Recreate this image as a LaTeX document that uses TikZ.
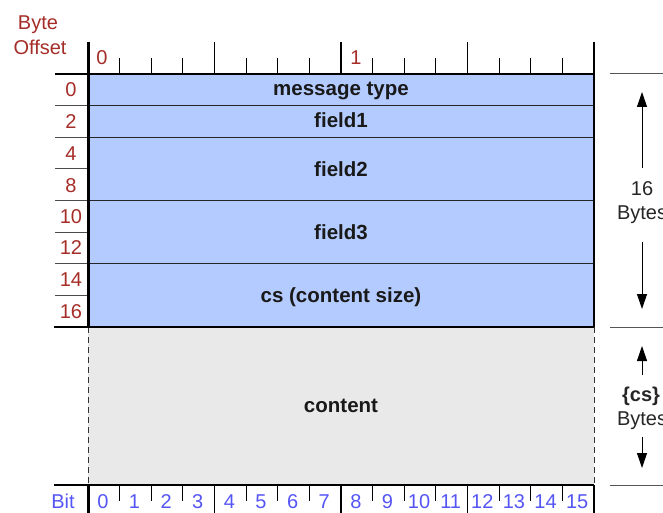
\documentclass[tikz,border=0pt]{standalone}
\usepackage{fontspec}
\setmainfont{Liberation Sans}
\usetikzlibrary{arrows.meta}
\definecolor{fieldblue}{RGB}{180,203,255}
\definecolor{contgray}{RGB}{233,233,233}
\definecolor{offred}{RGB}{165,45,40}
\definecolor{bitblue}{RGB}{85,85,245}
\definecolor{sidegray}{RGB}{85,85,85}
\begin{document}
\begin{tikzpicture}[x=1pt,y=-1pt,
  txt/.style={anchor=base,inner sep=0pt,font=\fontsize{20}{24}\selectfont},
  fieldlbl/.style={txt,font=\fontsize{20.5}{24}\selectfont\bfseries,text=black!90},
  offlbl/.style={txt,text=offred},
  bitlbl/.style={txt,text=bitblue},
  sidelbl/.style={txt,text=black!85},
  thickln/.style={line width=2.5pt,black},
  rowln/.style={line width=1.2pt,black!85},
  labln/.style={line width=1pt,black!70},
  tickln/.style={line width=1pt,black},
  dashln/.style={line width=1pt,black!80,dash pattern=on 6pt off 4pt},
  sideln/.style={line width=1pt,sidegray},
  arr/.style={line width=1pt,-{Triangle[width=10pt,length=15pt]}}
]
\def\unitw{31.625}
\useasboundingbox (0,0) rectangle (663,513);
% fills
\fill[fieldblue] (88,74) rectangle (594,327);
\fill[contgray] (88,327) rectangle (594,485);
% left label lines
\foreach \k in {1,...,7}{
  \draw[labln] (55,{74+\k*\unitw}) -- (88,{74+\k*\unitw});
}
% row lines inside box
\foreach \k in {1,2,4,6}{
  \draw[rowln] (88,{74+\k*\unitw}) -- (594,{74+\k*\unitw});
}
% top ruler ticks
\foreach \k in {1,...,15}{
  \pgfmathtruncatemacro{\m}{mod(\k,4)}
  \ifnum\m=0
    \ifnum\k=8
      \draw[line width=2.5pt] ({88+\k*\unitw},42) -- ({88+\k*\unitw},74);
    \else
      \draw[tickln] ({88+\k*\unitw},42) -- ({88+\k*\unitw},74);
    \fi
  \else
    \draw[tickln] ({88+\k*\unitw},58) -- ({88+\k*\unitw},74);
  \fi
}
% bottom ruler ticks
\foreach \k in {1,...,15}{
  \pgfmathtruncatemacro{\m}{mod(\k,4)}
  \ifnum\m=0
    \ifnum\k=8
      \draw[line width=2.5pt] ({88+\k*\unitw},485) -- ({88+\k*\unitw},514);
    \else
      \draw[tickln] ({88+\k*\unitw},485) -- ({88+\k*\unitw},514);
    \fi
  \else
    \draw[tickln] ({88+\k*\unitw},485) -- ({88+\k*\unitw},501);
  \fi
}
% dashed sides of content
\draw[dashln] (88,327) -- (88,485);
\draw[dashln] (594,327) -- (594,485);
% thick horizontal lines
\draw[thickln] (55,74) -- (594,74);
\draw[thickln] (54,327) -- (594,327);
\draw[thickln] (54,485) -- (594,485);
% thick verticals
\draw[line width=3pt] (88,42) -- (88,327);
\draw[line width=2.5pt] (594,42) -- (594,327);
\draw[line width=3pt] (88,485) -- (88,514);
\draw[line width=2.5pt] (594,485) -- (594,514);
% right side lines
\draw[sideln] (610,74) -- (664,74);
\draw[sideln] (610,327) -- (664,327);
\draw[sideln] (610,485) -- (664,485);
% field labels
\node[fieldlbl] (mt) at (341,96) {message type};
\node[fieldlbl] (f1) at (341,128) {field1};
\node[fieldlbl] (f2) at (341,176) {field2};
\node[fieldlbl] (f3) at (341,239) {field3};
\node[fieldlbl] (cs) at (341,302) {cs (content size)};
\node[fieldlbl] (ct) at (341,412) {content};
% byte offset header
\node[offlbl] (byte) at (38,30) {Byte};
\node[offlbl] (offset) at (40,55) {Offset};
\node[offlbl] (top0) at (102,65) {0};
\node[offlbl] (top1) at (356,65) {1};
% row labels
\node[offlbl] (r0) at (71,97) {0};
\node[offlbl] (r2) at (71,128.5) {2};
\node[offlbl] (r4) at (71,160.5) {4};
\node[offlbl] (r8) at (71,192) {8};
\node[offlbl] (r10) at (71,223) {10};
\node[offlbl] (r12) at (71,254.5) {12};
\node[offlbl] (r14) at (71,286) {14};
\node[offlbl] (r16) at (71,318) {16};
% bit labels
\node[bitlbl] (bit) at (63,508) {Bit};
\foreach \k in {0,...,15}{
  \node[bitlbl] (b\k) at ({88+(\k+0.5)*\unitw-1},508) {\k};
}
% right size annotations
\node[sidelbl] (n16) at (642,195) {16};
\node[sidelbl] (by1) at (642,219) {Bytes};
\coordinate (a1s) at (642,168);
\coordinate (a1e) at (642,92);
\coordinate (a2s) at (642,242);
\coordinate (a2e) at (642,309);
\draw[arr] (a1s) -- (a1e);
\draw[arr] (a2s) -- (a2e);
\node[sidelbl,font=\fontsize{20}{24}\selectfont\bfseries] (ncs) at (641,401) {\{cs\}};
\node[sidelbl] (by2) at (642,425) {Bytes};
\coordinate (a3s) at (642,375);
\coordinate (a3e) at (642,346);
\coordinate (a4s) at (642,437);
\coordinate (a4e) at (642,468);
\draw[arr] (a3s) -- (a3e);
\draw[arr] (a4s) -- (a4e);
\end{tikzpicture}
\end{document}
